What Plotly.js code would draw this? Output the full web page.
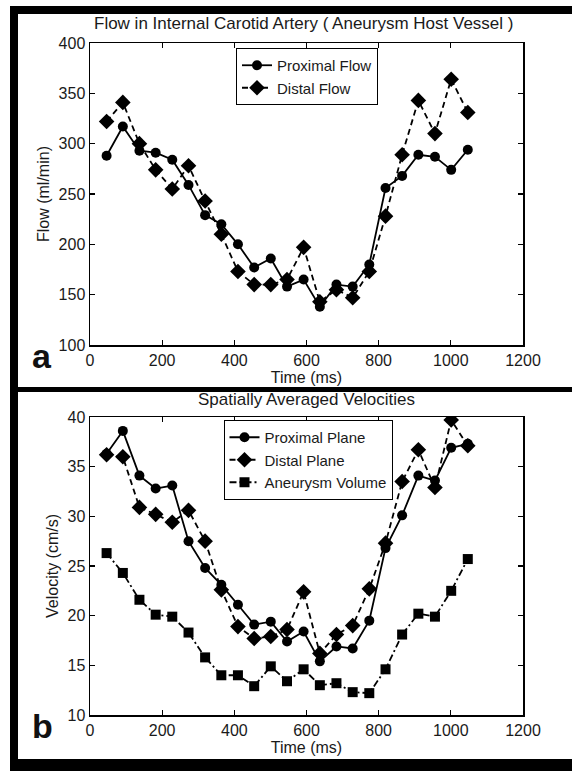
<!DOCTYPE html>
<html>
<head>
<meta charset="utf-8">
<script src="https://cdn.plot.ly/plotly-3.0.1.min.js"></script>
<style>html,body{margin:0;padding:0;background:#fff;}#chart{width:572px;height:771px;}</style>
</head>
<body>
<div id="chart"></div>
<script>
// ---- data ----
const timeMs = [46, 91, 137, 182, 228, 273, 319, 364, 410, 455, 501, 546, 592, 637, 683, 728, 774, 819, 865, 910, 956, 1001, 1047];
const flowProximal = [288, 317, 293, 291, 284, 259, 229, 220, 200, 177, 186, 158, 165, 138, 160, 158, 180, 256, 268, 289, 287, 274, 294];
const flowDistal   = [322, 341, 300, 274, 255, 278, 243, 210, 173, 160, 160, 165, 197, 143, 155, 147, 173, 228, 289, 343, 310, 364, 331];
const velProximal  = [36.3, 38.6, 34.1, 32.8, 33.1, 27.5, 24.8, 23.1, 21.1, 19.1, 19.4, 17.4, 18.4, 15.4, 16.9, 16.7, 19.5, 26.8, 30.1, 34.1, 33.6, 36.9, 37.3];
const velDistal    = [36.2, 36.0, 30.9, 30.2, 29.4, 30.6, 27.5, 22.6, 18.9, 17.7, 17.9, 18.6, 22.4, 16.2, 18.1, 19.0, 22.7, 27.3, 33.5, 36.7, 32.9, 39.7, 37.1];
const velAneurysm  = [26.3, 24.3, 21.6, 20.1, 19.9, 18.3, 15.8, 14.0, 14.0, 12.9, 14.9, 13.4, 14.6, 13.0, 13.2, 12.3, 12.2, 14.6, 18.1, 20.2, 19.9, 22.5, 25.7];
const xTicks = [0, 200, 400, 600, 800, 1000, 1200];
const flowTicks = [100, 150, 200, 250, 300, 350, 400];
const velTicks = [10, 15, 20, 25, 30, 35, 40];
const titleTop = "Flow in Internal Carotid Artery ( Aneurysm Host Vessel )";
const titleBottom = "Spatially Averaged Velocities";

// ---- geometry helpers ----
const W = 572, H = 771;
const L = 90, R = 523, T = 43, B = 715;
const px = x => (x - L) / (R - L);
const py = y => (B - y) / (B - T);
const FONT = '"Liberation Sans Narrow", "Arial Narrow", "Liberation Sans", Arial, sans-serif';
const ink = '#1a1a1a';

function tr(x, y, name, symbol, dash, msize, xa, ya, leg) {
  return {
    x: x, y: y, name: name, type: 'scatter', mode: 'lines+markers',
    xaxis: xa, yaxis: ya, legend: leg,
    line: {color: '#000', width: 1.8, dash: dash},
    marker: {symbol: symbol, size: msize, color: '#000'}
  };
}

const traces = [
  tr(timeMs, flowProximal, 'Proximal Flow', 'circle', 'solid', 10, 'x', 'y', 'legend'),
  tr(timeMs, flowDistal, 'Distal Flow', 'diamond', '6px,4px', 12, 'x', 'y', 'legend'),
  tr(timeMs, velProximal, 'Proximal Plane', 'circle', 'solid', 10, 'x2', 'y2', 'legend2'),
  tr(timeMs, velDistal, 'Distal Plane', 'diamond', '6px,4px', 12, 'x2', 'y2', 'legend2'),
  tr(timeMs, velAneurysm, 'Aneurysm Volume', 'square', '7px,3px,2px,3px', 10, 'x2', 'y2', 'legend2')
];

function axisBase(extra) {
  return Object.assign({
    showline: true, linecolor: '#000', linewidth: 1.5, mirror: 'ticks',
    ticks: 'inside', ticklen: 5, tickwidth: 1.2, tickcolor: '#000',
    showgrid: false, zeroline: false,
    tickfont: {family: FONT, size: 16, color: ink}
  }, extra);
}

const topDom = [py(345), 1];
const botDom = [0, py(417)];

const layout = {
  width: W, height: H,
  margin: {l: L, r: W - R, t: T, b: H - B, pad: 0},
  paper_bgcolor: '#fff', plot_bgcolor: '#fff',
  font: {family: FONT, size: 16, color: ink},
  showlegend: true,
  xaxis: axisBase({domain: [0, 1], anchor: 'y', range: [0, 1200], tickvals: xTicks,
    title: {text: 'Time (ms)', font: {family: FONT, size: 16, color: ink}, standoff: 0}}),
  yaxis: axisBase({domain: topDom, anchor: 'x', range: [100, 400], tickvals: flowTicks,
    title: {text: 'Flow (ml/min)', font: {family: FONT, size: 16, color: ink}, standoff: 5}}),
  xaxis2: axisBase({domain: [0, 1], anchor: 'y2', range: [0, 1200], tickvals: xTicks,
    title: {text: 'Time (ms)', font: {family: FONT, size: 16, color: ink}, standoff: 0}}),
  yaxis2: axisBase({domain: botDom, anchor: 'x2', range: [10, 40], tickvals: velTicks,
    title: {text: 'Velocity (cm/s)', font: {family: FONT, size: 16, color: ink}, standoff: 5}}),
  legend: {x: px(307), y: py(48), xanchor: 'center', yanchor: 'top',
    bordercolor: '#000', borderwidth: 1, bgcolor: '#fff',
    font: {family: FONT, size: 15, color: ink}, itemwidth: 30, tracegroupgap: 0},
  legend2: {x: px(308), y: py(420), xanchor: 'center', yanchor: 'top',
    bordercolor: '#000', borderwidth: 1, bgcolor: '#fff',
    font: {family: FONT, size: 15, color: ink}, itemwidth: 30, tracegroupgap: 0},
  annotations: [
    {text: titleTop, xref: 'paper', yref: 'paper', x: px(304), y: py(23), showarrow: false,
     xanchor: 'center', yanchor: 'middle', font: {family: FONT, size: 17, color: ink}},
    {text: titleBottom, xref: 'paper', yref: 'paper', x: px(306), y: py(399), showarrow: false,
     xanchor: 'center', yanchor: 'middle', font: {family: FONT, size: 17, color: ink}},
    {text: '<b>a</b>', xref: 'paper', yref: 'paper', x: px(42), y: py(356), showarrow: false,
     xanchor: 'center', yanchor: 'middle', font: {family: '"Liberation Sans", Arial, sans-serif', size: 34, color: '#111'}},
    {text: '<b>b</b>', xref: 'paper', yref: 'paper', x: px(42), y: py(726), showarrow: false,
     xanchor: 'center', yanchor: 'middle', font: {family: '"Liberation Sans", Arial, sans-serif', size: 34, color: '#111'}}
  ],
  shapes: [
    {type: 'rect', xref: 'paper', yref: 'paper', x0: px(10), x1: px(18), y0: py(6), y1: py(771), fillcolor: '#000', line: {width: 0}},
    {type: 'rect', xref: 'paper', yref: 'paper', x0: px(10), x1: px(572), y0: py(6), y1: py(14), fillcolor: '#000', line: {width: 0}},
    {type: 'rect', xref: 'paper', yref: 'paper', x0: px(10), x1: px(572), y0: py(387), y1: py(392), fillcolor: '#000', line: {width: 0}},
    {type: 'rect', xref: 'paper', yref: 'paper', x0: px(10), x1: px(572), y0: py(759), y1: py(771), fillcolor: '#000', line: {width: 0}}
  ]
};

Plotly.newPlot('chart', traces, layout, {displayModeBar: false, staticPlot: true});
</script>
</body>
</html>
